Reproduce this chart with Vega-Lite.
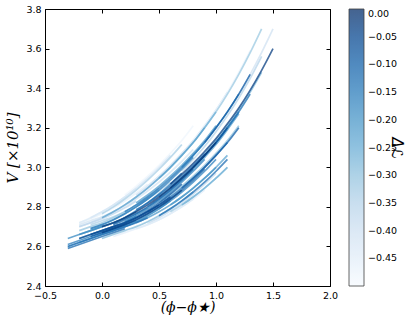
{
  "$schema": "https://vega.github.io/schema/vega-lite/v6.json",
  "width": 285,
  "height": 277,
  "autosize": {"type": "none"},
  "padding": {"left": 45, "top": 9, "right": 86, "bottom": 36},
  "background": "white",
  "config": {
    "view": {"stroke": "black", "strokeWidth": 1},
    "font": "DejaVu Sans",
    "axis": {"grid": false, "domain": false, "tickColor": "black", "labelColor": "black", "labelFontSize": 9.5, "labelFont": "DejaVu Sans"}
  },
  "data": {"values": [
    {"id":41,"phi":-0.2,"V":2.72,"dL":-0.46},{"id":41,"phi":-0.1,"V":2.74,"dL":-0.46},{"id":41,"phi":0.0,"V":2.765,"dL":-0.46},{"id":41,"phi":0.1,"V":2.795,"dL":-0.46},{"id":41,"phi":0.2,"V":2.83,"dL":-0.46},{"id":41,"phi":0.3,"V":2.87,"dL":-0.46},{"id":41,"phi":0.4,"V":2.915,"dL":-0.46},
    {"id":42,"phi":-0.2,"V":2.72,"dL":-0.43},{"id":42,"phi":-0.1,"V":2.745,"dL":-0.43},{"id":42,"phi":0.0,"V":2.775,"dL":-0.43},{"id":42,"phi":0.1,"V":2.81,"dL":-0.43},{"id":42,"phi":0.2,"V":2.85,"dL":-0.43},{"id":42,"phi":0.3,"V":2.895,"dL":-0.43},
    {"id":43,"phi":-0.2,"V":2.71,"dL":-0.41},{"id":43,"phi":-0.1,"V":2.73,"dL":-0.41},{"id":43,"phi":0.0,"V":2.75,"dL":-0.41},{"id":43,"phi":0.1,"V":2.775,"dL":-0.41},{"id":43,"phi":0.2,"V":2.805,"dL":-0.41},{"id":43,"phi":0.3,"V":2.84,"dL":-0.41},{"id":43,"phi":0.4,"V":2.88,"dL":-0.41},{"id":43,"phi":0.5,"V":2.925,"dL":-0.41},{"id":43,"phi":0.6,"V":2.975,"dL":-0.41},{"id":43,"phi":0.7,"V":3.03,"dL":-0.41},{"id":43,"phi":0.8,"V":3.09,"dL":-0.41},
    {"id":44,"phi":0.3,"V":2.86,"dL":-0.39},{"id":44,"phi":0.4,"V":2.905,"dL":-0.39},{"id":44,"phi":0.5,"V":2.955,"dL":-0.39},{"id":44,"phi":0.6,"V":3.01,"dL":-0.39},{"id":44,"phi":0.7,"V":3.07,"dL":-0.39},{"id":44,"phi":0.8,"V":3.135,"dL":-0.39},{"id":44,"phi":0.9,"V":3.21,"dL":-0.39},{"id":44,"phi":1.0,"V":3.29,"dL":-0.39},{"id":44,"phi":1.1,"V":3.38,"dL":-0.39},
    {"id":45,"phi":0.4,"V":2.715,"dL":-0.37},{"id":45,"phi":0.5,"V":2.745,"dL":-0.37},{"id":45,"phi":0.6,"V":2.78,"dL":-0.37},{"id":45,"phi":0.7,"V":2.82,"dL":-0.37},{"id":45,"phi":0.8,"V":2.865,"dL":-0.37},{"id":45,"phi":0.9,"V":2.915,"dL":-0.37},{"id":45,"phi":1.0,"V":2.97,"dL":-0.37},
    {"id":46,"phi":-0.1,"V":2.71,"dL":-0.34},{"id":46,"phi":0.0,"V":2.73,"dL":-0.34},{"id":46,"phi":0.1,"V":2.75,"dL":-0.34},{"id":46,"phi":0.2,"V":2.775,"dL":-0.34},{"id":46,"phi":0.3,"V":2.805,"dL":-0.34},{"id":46,"phi":0.4,"V":2.84,"dL":-0.34},{"id":46,"phi":0.5,"V":2.88,"dL":-0.34},{"id":46,"phi":0.6,"V":2.925,"dL":-0.34},
    {"id":36,"phi":0.2,"V":2.86,"dL":-0.48},{"id":36,"phi":0.3,"V":2.905,"dL":-0.48},{"id":36,"phi":0.4,"V":2.955,"dL":-0.48},{"id":36,"phi":0.5,"V":3.01,"dL":-0.48},{"id":36,"phi":0.6,"V":3.07,"dL":-0.48},{"id":36,"phi":0.7,"V":3.135,"dL":-0.48},{"id":36,"phi":0.8,"V":3.21,"dL":-0.48},
    {"id":24,"phi":0.8,"V":3.135,"dL":-0.47},{"id":24,"phi":0.9,"V":3.21,"dL":-0.47},{"id":24,"phi":1.0,"V":3.29,"dL":-0.47},{"id":24,"phi":1.1,"V":3.38,"dL":-0.47},{"id":24,"phi":1.2,"V":3.48,"dL":-0.47},{"id":24,"phi":1.3,"V":3.59,"dL":-0.47},
    {"id":15,"phi":0.1,"V":2.65,"dL":-0.45},{"id":15,"phi":0.2,"V":2.67,"dL":-0.45},{"id":15,"phi":0.3,"V":2.69,"dL":-0.45},{"id":15,"phi":0.4,"V":2.71,"dL":-0.45},{"id":15,"phi":0.5,"V":2.735,"dL":-0.45},{"id":15,"phi":0.6,"V":2.765,"dL":-0.45},{"id":15,"phi":0.7,"V":2.8,"dL":-0.45},{"id":15,"phi":0.8,"V":2.84,"dL":-0.45},{"id":15,"phi":0.9,"V":2.885,"dL":-0.45},
    {"id":28,"phi":0.3,"V":2.69,"dL":-0.44},{"id":28,"phi":0.4,"V":2.71,"dL":-0.44},{"id":28,"phi":0.5,"V":2.735,"dL":-0.44},{"id":28,"phi":0.6,"V":2.765,"dL":-0.44},{"id":28,"phi":0.7,"V":2.8,"dL":-0.44},{"id":28,"phi":0.8,"V":2.84,"dL":-0.44},
    {"id":9,"phi":-0.1,"V":2.745,"dL":-0.42},{"id":9,"phi":0.0,"V":2.775,"dL":-0.42},{"id":9,"phi":0.1,"V":2.81,"dL":-0.42},{"id":9,"phi":0.2,"V":2.85,"dL":-0.42},{"id":9,"phi":0.3,"V":2.895,"dL":-0.42},{"id":9,"phi":0.4,"V":2.945,"dL":-0.42},{"id":9,"phi":0.5,"V":3.0,"dL":-0.42},{"id":9,"phi":0.6,"V":3.06,"dL":-0.42},
    {"id":20,"phi":0.6,"V":2.945,"dL":-0.4},{"id":20,"phi":0.7,"V":3.0,"dL":-0.4},{"id":20,"phi":0.8,"V":3.06,"dL":-0.4},{"id":20,"phi":0.9,"V":3.125,"dL":-0.4},{"id":20,"phi":1.0,"V":3.2,"dL":-0.4},{"id":20,"phi":1.1,"V":3.28,"dL":-0.4},{"id":20,"phi":1.2,"V":3.37,"dL":-0.4},{"id":20,"phi":1.3,"V":3.47,"dL":-0.4},{"id":20,"phi":1.4,"V":3.58,"dL":-0.4},{"id":20,"phi":1.5,"V":3.7,"dL":-0.4},
    {"id":8,"phi":-0.2,"V":2.7,"dL":-0.38},{"id":8,"phi":-0.1,"V":2.72,"dL":-0.38},{"id":8,"phi":0.0,"V":2.745,"dL":-0.38},{"id":8,"phi":0.1,"V":2.775,"dL":-0.38},{"id":8,"phi":0.2,"V":2.81,"dL":-0.38},{"id":8,"phi":0.3,"V":2.85,"dL":-0.38},{"id":8,"phi":0.4,"V":2.895,"dL":-0.38},{"id":8,"phi":0.5,"V":2.945,"dL":-0.38},{"id":8,"phi":0.6,"V":3.0,"dL":-0.38},
    {"id":32,"phi":-0.2,"V":2.7,"dL":-0.36},{"id":32,"phi":-0.1,"V":2.72,"dL":-0.36},{"id":32,"phi":0.0,"V":2.74,"dL":-0.36},{"id":32,"phi":0.1,"V":2.765,"dL":-0.36},{"id":32,"phi":0.2,"V":2.795,"dL":-0.36},{"id":32,"phi":0.3,"V":2.83,"dL":-0.36},
    {"id":21,"phi":0.7,"V":2.98,"dL":-0.35},{"id":21,"phi":0.8,"V":3.04,"dL":-0.35},{"id":21,"phi":0.9,"V":3.105,"dL":-0.35},{"id":21,"phi":1.0,"V":3.18,"dL":-0.35},{"id":21,"phi":1.1,"V":3.26,"dL":-0.35},{"id":21,"phi":1.2,"V":3.35,"dL":-0.35},{"id":21,"phi":1.3,"V":3.45,"dL":-0.35},{"id":21,"phi":1.4,"V":3.56,"dL":-0.35},
    {"id":10,"phi":0.0,"V":2.765,"dL":-0.33},{"id":10,"phi":0.1,"V":2.8,"dL":-0.33},{"id":10,"phi":0.2,"V":2.84,"dL":-0.33},{"id":10,"phi":0.3,"V":2.885,"dL":-0.33},{"id":10,"phi":0.4,"V":2.935,"dL":-0.33},{"id":10,"phi":0.5,"V":2.99,"dL":-0.33},{"id":10,"phi":0.6,"V":3.05,"dL":-0.33},{"id":10,"phi":0.7,"V":3.115,"dL":-0.33},
    {"id":27,"phi":0.6,"V":2.775,"dL":-0.32},{"id":27,"phi":0.7,"V":2.81,"dL":-0.32},{"id":27,"phi":0.8,"V":2.85,"dL":-0.32},{"id":27,"phi":0.9,"V":2.895,"dL":-0.32},{"id":27,"phi":1.0,"V":2.945,"dL":-0.32},{"id":27,"phi":1.1,"V":3.0,"dL":-0.32},
    {"id":40,"phi":0.9,"V":3.2,"dL":-0.31},{"id":40,"phi":1.0,"V":3.28,"dL":-0.31},{"id":40,"phi":1.1,"V":3.37,"dL":-0.31},{"id":40,"phi":1.2,"V":3.47,"dL":-0.31},{"id":40,"phi":1.3,"V":3.58,"dL":-0.31},{"id":40,"phi":1.4,"V":3.7,"dL":-0.31},
    {"id":6,"phi":-0.2,"V":2.68,"dL":-0.3},{"id":6,"phi":-0.1,"V":2.7,"dL":-0.3},{"id":6,"phi":0.0,"V":2.72,"dL":-0.3},{"id":6,"phi":0.1,"V":2.745,"dL":-0.3},{"id":6,"phi":0.2,"V":2.775,"dL":-0.3},{"id":6,"phi":0.3,"V":2.81,"dL":-0.3},{"id":6,"phi":0.4,"V":2.85,"dL":-0.3},{"id":6,"phi":0.5,"V":2.895,"dL":-0.3},
    {"id":47,"phi":0.5,"V":2.82,"dL":-0.29},{"id":47,"phi":0.6,"V":2.86,"dL":-0.29},{"id":47,"phi":0.7,"V":2.905,"dL":-0.29},{"id":47,"phi":0.8,"V":2.955,"dL":-0.29},{"id":47,"phi":0.9,"V":3.01,"dL":-0.29},{"id":47,"phi":1.0,"V":3.07,"dL":-0.29},{"id":47,"phi":1.1,"V":3.135,"dL":-0.29},{"id":47,"phi":1.2,"V":3.21,"dL":-0.29},
    {"id":14,"phi":0.0,"V":2.64,"dL":-0.28},{"id":14,"phi":0.1,"V":2.66,"dL":-0.28},{"id":14,"phi":0.2,"V":2.68,"dL":-0.28},{"id":14,"phi":0.3,"V":2.7,"dL":-0.28},{"id":14,"phi":0.4,"V":2.725,"dL":-0.28},{"id":14,"phi":0.5,"V":2.755,"dL":-0.28},{"id":14,"phi":0.6,"V":2.79,"dL":-0.28},{"id":14,"phi":0.7,"V":2.83,"dL":-0.28},{"id":14,"phi":0.8,"V":2.875,"dL":-0.28},
    {"id":34,"phi":0.9,"V":3.07,"dL":-0.27},{"id":34,"phi":1.0,"V":3.135,"dL":-0.27},{"id":34,"phi":1.1,"V":3.21,"dL":-0.27},{"id":34,"phi":1.2,"V":3.29,"dL":-0.27},{"id":34,"phi":1.3,"V":3.38,"dL":-0.27},{"id":34,"phi":1.4,"V":3.48,"dL":-0.27},
    {"id":23,"phi":0.5,"V":2.945,"dL":-0.26},{"id":23,"phi":0.6,"V":3.0,"dL":-0.26},{"id":23,"phi":0.7,"V":3.06,"dL":-0.26},{"id":23,"phi":0.8,"V":3.125,"dL":-0.26},{"id":23,"phi":0.9,"V":3.2,"dL":-0.26},{"id":23,"phi":1.0,"V":3.28,"dL":-0.26},
    {"id":60,"phi":0.7,"V":2.81,"dL":-0.26},{"id":60,"phi":0.8,"V":2.85,"dL":-0.26},{"id":60,"phi":0.9,"V":2.895,"dL":-0.26},{"id":60,"phi":1.0,"V":2.945,"dL":-0.26},{"id":60,"phi":1.1,"V":3.0,"dL":-0.26},
    {"id":2,"phi":-0.3,"V":2.6,"dL":-0.25},{"id":2,"phi":-0.2,"V":2.62,"dL":-0.25},{"id":2,"phi":-0.1,"V":2.64,"dL":-0.25},{"id":2,"phi":0.0,"V":2.66,"dL":-0.25},{"id":2,"phi":0.1,"V":2.68,"dL":-0.25},{"id":2,"phi":0.2,"V":2.7,"dL":-0.25},{"id":2,"phi":0.3,"V":2.725,"dL":-0.25},{"id":2,"phi":0.4,"V":2.755,"dL":-0.25},{"id":2,"phi":0.5,"V":2.79,"dL":-0.25},
    {"id":48,"phi":-0.1,"V":2.69,"dL":-0.24},{"id":48,"phi":0.0,"V":2.71,"dL":-0.24},{"id":48,"phi":0.1,"V":2.735,"dL":-0.24},{"id":48,"phi":0.2,"V":2.765,"dL":-0.24},{"id":48,"phi":0.3,"V":2.8,"dL":-0.24},{"id":48,"phi":0.4,"V":2.84,"dL":-0.24},{"id":48,"phi":0.5,"V":2.885,"dL":-0.24},
    {"id":26,"phi":0.6,"V":2.81,"dL":-0.23},{"id":26,"phi":0.7,"V":2.85,"dL":-0.23},{"id":26,"phi":0.8,"V":2.895,"dL":-0.23},{"id":26,"phi":0.9,"V":2.945,"dL":-0.23},{"id":26,"phi":1.0,"V":3.0,"dL":-0.23},{"id":26,"phi":1.1,"V":3.06,"dL":-0.23},
    {"id":11,"phi":0.0,"V":2.745,"dL":-0.22},{"id":11,"phi":0.1,"V":2.775,"dL":-0.22},{"id":11,"phi":0.2,"V":2.81,"dL":-0.22},{"id":11,"phi":0.3,"V":2.85,"dL":-0.22},{"id":11,"phi":0.4,"V":2.895,"dL":-0.22},{"id":11,"phi":0.5,"V":2.945,"dL":-0.22},{"id":11,"phi":0.6,"V":3.0,"dL":-0.22},{"id":11,"phi":0.7,"V":3.06,"dL":-0.22},{"id":11,"phi":0.8,"V":3.125,"dL":-0.22},{"id":11,"phi":0.9,"V":3.2,"dL":-0.22},
    {"id":38,"phi":0.3,"V":2.82,"dL":-0.21},{"id":38,"phi":0.4,"V":2.86,"dL":-0.21},{"id":38,"phi":0.5,"V":2.905,"dL":-0.21},{"id":38,"phi":0.6,"V":2.955,"dL":-0.21},{"id":38,"phi":0.7,"V":3.01,"dL":-0.21},{"id":38,"phi":0.8,"V":3.07,"dL":-0.21},{"id":38,"phi":0.9,"V":3.135,"dL":-0.21},{"id":38,"phi":1.0,"V":3.21,"dL":-0.21},
    {"id":49,"phi":0.4,"V":2.8,"dL":-0.21},{"id":49,"phi":0.5,"V":2.84,"dL":-0.21},{"id":49,"phi":0.6,"V":2.885,"dL":-0.21},{"id":49,"phi":0.7,"V":2.935,"dL":-0.21},{"id":49,"phi":0.8,"V":2.99,"dL":-0.21},{"id":49,"phi":0.9,"V":3.05,"dL":-0.21},{"id":49,"phi":1.0,"V":3.115,"dL":-0.21},{"id":49,"phi":1.1,"V":3.19,"dL":-0.21},{"id":49,"phi":1.2,"V":3.27,"dL":-0.21},
    {"id":16,"phi":0.3,"V":2.72,"dL":-0.2},{"id":16,"phi":0.4,"V":2.745,"dL":-0.2},{"id":16,"phi":0.5,"V":2.775,"dL":-0.2},{"id":16,"phi":0.6,"V":2.81,"dL":-0.2},{"id":16,"phi":0.7,"V":2.85,"dL":-0.2},{"id":16,"phi":0.8,"V":2.895,"dL":-0.2},{"id":16,"phi":0.9,"V":2.945,"dL":-0.2},{"id":16,"phi":1.0,"V":3.0,"dL":-0.2},
    {"id":31,"phi":-0.2,"V":2.66,"dL":-0.19},{"id":31,"phi":-0.1,"V":2.68,"dL":-0.19},{"id":31,"phi":0.0,"V":2.7,"dL":-0.19},{"id":31,"phi":0.1,"V":2.72,"dL":-0.19},{"id":31,"phi":0.2,"V":2.74,"dL":-0.19},{"id":31,"phi":0.3,"V":2.765,"dL":-0.19},{"id":31,"phi":0.4,"V":2.795,"dL":-0.19},
    {"id":50,"phi":-0.2,"V":2.62,"dL":-0.19},{"id":50,"phi":-0.1,"V":2.64,"dL":-0.19},{"id":50,"phi":0.0,"V":2.66,"dL":-0.19},{"id":50,"phi":0.1,"V":2.68,"dL":-0.19},{"id":50,"phi":0.2,"V":2.7,"dL":-0.19},{"id":50,"phi":0.3,"V":2.725,"dL":-0.19},{"id":50,"phi":0.4,"V":2.755,"dL":-0.19},{"id":50,"phi":0.5,"V":2.79,"dL":-0.19},{"id":50,"phi":0.6,"V":2.83,"dL":-0.19},
    {"id":4,"phi":-0.2,"V":2.64,"dL":-0.18},{"id":4,"phi":-0.1,"V":2.66,"dL":-0.18},{"id":4,"phi":0.0,"V":2.68,"dL":-0.18},{"id":4,"phi":0.1,"V":2.7,"dL":-0.18},{"id":4,"phi":0.2,"V":2.725,"dL":-0.18},{"id":4,"phi":0.3,"V":2.755,"dL":-0.18},
    {"id":22,"phi":0.7,"V":3.0,"dL":-0.17},{"id":22,"phi":0.8,"V":3.06,"dL":-0.17},{"id":22,"phi":0.9,"V":3.125,"dL":-0.17},{"id":22,"phi":1.0,"V":3.2,"dL":-0.17},{"id":22,"phi":1.1,"V":3.28,"dL":-0.17},{"id":22,"phi":1.2,"V":3.37,"dL":-0.17},
    {"id":51,"phi":-0.3,"V":2.64,"dL":-0.17},{"id":51,"phi":-0.2,"V":2.66,"dL":-0.17},{"id":51,"phi":-0.1,"V":2.68,"dL":-0.17},{"id":51,"phi":0.0,"V":2.7,"dL":-0.17},{"id":51,"phi":0.1,"V":2.72,"dL":-0.17},{"id":51,"phi":0.2,"V":2.745,"dL":-0.17},{"id":51,"phi":0.3,"V":2.775,"dL":-0.17},
    {"id":37,"phi":0.5,"V":2.79,"dL":-0.16},{"id":37,"phi":0.6,"V":2.83,"dL":-0.16},{"id":37,"phi":0.7,"V":2.875,"dL":-0.16},{"id":37,"phi":0.8,"V":2.925,"dL":-0.16},{"id":37,"phi":0.9,"V":2.98,"dL":-0.16},{"id":37,"phi":1.0,"V":3.04,"dL":-0.16},
    {"id":30,"phi":0.2,"V":2.725,"dL":-0.16},{"id":30,"phi":0.3,"V":2.755,"dL":-0.16},{"id":30,"phi":0.4,"V":2.79,"dL":-0.16},{"id":30,"phi":0.5,"V":2.83,"dL":-0.16},{"id":30,"phi":0.6,"V":2.875,"dL":-0.16},{"id":30,"phi":0.7,"V":2.925,"dL":-0.16},{"id":30,"phi":0.8,"V":2.98,"dL":-0.16},{"id":30,"phi":0.9,"V":3.04,"dL":-0.16},
    {"id":7,"phi":-0.1,"V":2.69,"dL":-0.15},{"id":7,"phi":0.0,"V":2.71,"dL":-0.15},{"id":7,"phi":0.1,"V":2.735,"dL":-0.15},{"id":7,"phi":0.2,"V":2.765,"dL":-0.15},{"id":7,"phi":0.3,"V":2.8,"dL":-0.15},{"id":7,"phi":0.4,"V":2.84,"dL":-0.15},{"id":7,"phi":0.5,"V":2.885,"dL":-0.15},{"id":7,"phi":0.6,"V":2.935,"dL":-0.15},{"id":7,"phi":0.7,"V":2.99,"dL":-0.15},{"id":7,"phi":0.8,"V":3.05,"dL":-0.15},
    {"id":59,"phi":-0.3,"V":2.61,"dL":-0.15},{"id":59,"phi":-0.2,"V":2.63,"dL":-0.15},{"id":59,"phi":-0.1,"V":2.65,"dL":-0.15},{"id":59,"phi":0.0,"V":2.67,"dL":-0.15},{"id":59,"phi":0.1,"V":2.69,"dL":-0.15},{"id":59,"phi":0.2,"V":2.71,"dL":-0.15},{"id":59,"phi":0.3,"V":2.73,"dL":-0.15},
    {"id":29,"phi":0.8,"V":3.0,"dL":-0.14},{"id":29,"phi":0.9,"V":3.06,"dL":-0.14},{"id":29,"phi":1.0,"V":3.125,"dL":-0.14},{"id":29,"phi":1.1,"V":3.2,"dL":-0.14},{"id":29,"phi":1.2,"V":3.28,"dL":-0.14},
    {"id":52,"phi":0.2,"V":2.775,"dL":-0.14},{"id":52,"phi":0.3,"V":2.81,"dL":-0.14},{"id":52,"phi":0.4,"V":2.85,"dL":-0.14},{"id":52,"phi":0.5,"V":2.895,"dL":-0.14},{"id":52,"phi":0.6,"V":2.945,"dL":-0.14},{"id":52,"phi":0.7,"V":3.0,"dL":-0.14},{"id":52,"phi":0.8,"V":3.06,"dL":-0.14},{"id":52,"phi":0.9,"V":3.125,"dL":-0.14},
    {"id":33,"phi":0.1,"V":2.715,"dL":-0.13},{"id":33,"phi":0.2,"V":2.745,"dL":-0.13},{"id":33,"phi":0.3,"V":2.78,"dL":-0.13},{"id":33,"phi":0.4,"V":2.82,"dL":-0.13},{"id":33,"phi":0.5,"V":2.865,"dL":-0.13},{"id":33,"phi":0.6,"V":2.915,"dL":-0.13},{"id":33,"phi":0.7,"V":2.97,"dL":-0.13},
    {"id":18,"phi":0.5,"V":2.85,"dL":-0.13},{"id":18,"phi":0.6,"V":2.895,"dL":-0.13},{"id":18,"phi":0.7,"V":2.945,"dL":-0.13},{"id":18,"phi":0.8,"V":3.0,"dL":-0.13},{"id":18,"phi":0.9,"V":3.06,"dL":-0.13},{"id":18,"phi":1.0,"V":3.125,"dL":-0.13},{"id":18,"phi":1.1,"V":3.2,"dL":-0.13},{"id":18,"phi":1.2,"V":3.28,"dL":-0.13},{"id":18,"phi":1.3,"V":3.37,"dL":-0.13},
    {"id":1,"phi":-0.3,"V":2.6,"dL":-0.12},{"id":1,"phi":-0.2,"V":2.62,"dL":-0.12},{"id":1,"phi":-0.1,"V":2.64,"dL":-0.12},{"id":1,"phi":0.0,"V":2.66,"dL":-0.12},{"id":1,"phi":0.1,"V":2.68,"dL":-0.12},{"id":1,"phi":0.2,"V":2.7,"dL":-0.12},{"id":1,"phi":0.3,"V":2.72,"dL":-0.12},{"id":1,"phi":0.4,"V":2.745,"dL":-0.12},
    {"id":17,"phi":0.4,"V":2.775,"dL":-0.12},{"id":17,"phi":0.5,"V":2.81,"dL":-0.12},{"id":17,"phi":0.6,"V":2.85,"dL":-0.12},{"id":17,"phi":0.7,"V":2.895,"dL":-0.12},{"id":17,"phi":0.8,"V":2.945,"dL":-0.12},{"id":17,"phi":0.9,"V":3.0,"dL":-0.12},{"id":17,"phi":1.0,"V":3.06,"dL":-0.12},{"id":17,"phi":1.1,"V":3.125,"dL":-0.12},
    {"id":53,"phi":0.5,"V":2.755,"dL":-0.12},{"id":53,"phi":0.6,"V":2.79,"dL":-0.12},{"id":53,"phi":0.7,"V":2.83,"dL":-0.12},{"id":53,"phi":0.8,"V":2.875,"dL":-0.12},{"id":53,"phi":0.9,"V":2.925,"dL":-0.12},{"id":53,"phi":1.0,"V":2.98,"dL":-0.12},{"id":53,"phi":1.1,"V":3.04,"dL":-0.12},
    {"id":35,"phi":-0.3,"V":2.59,"dL":-0.11},{"id":35,"phi":-0.2,"V":2.61,"dL":-0.11},{"id":35,"phi":-0.1,"V":2.63,"dL":-0.11},{"id":35,"phi":0.0,"V":2.65,"dL":-0.11},{"id":35,"phi":0.1,"V":2.67,"dL":-0.11},{"id":35,"phi":0.2,"V":2.69,"dL":-0.11},
    {"id":39,"phi":0.3,"V":2.785,"dL":-0.11},{"id":39,"phi":0.4,"V":2.82,"dL":-0.11},{"id":39,"phi":0.5,"V":2.86,"dL":-0.11},{"id":39,"phi":0.6,"V":2.905,"dL":-0.11},{"id":39,"phi":0.7,"V":2.955,"dL":-0.11},{"id":39,"phi":0.8,"V":3.01,"dL":-0.11},{"id":39,"phi":0.9,"V":3.07,"dL":-0.11},
    {"id":13,"phi":0.0,"V":2.67,"dL":-0.1},{"id":13,"phi":0.1,"V":2.69,"dL":-0.1},{"id":13,"phi":0.2,"V":2.71,"dL":-0.1},{"id":13,"phi":0.3,"V":2.735,"dL":-0.1},{"id":13,"phi":0.4,"V":2.765,"dL":-0.1},{"id":13,"phi":0.5,"V":2.8,"dL":-0.1},{"id":13,"phi":0.6,"V":2.84,"dL":-0.1},{"id":13,"phi":0.7,"V":2.885,"dL":-0.1},{"id":13,"phi":0.8,"V":2.935,"dL":-0.1},{"id":13,"phi":0.9,"V":2.99,"dL":-0.1},
    {"id":54,"phi":0.1,"V":2.71,"dL":-0.1},{"id":54,"phi":0.2,"V":2.735,"dL":-0.1},{"id":54,"phi":0.3,"V":2.765,"dL":-0.1},{"id":54,"phi":0.4,"V":2.8,"dL":-0.1},{"id":54,"phi":0.5,"V":2.84,"dL":-0.1},{"id":54,"phi":0.6,"V":2.885,"dL":-0.1},{"id":54,"phi":0.7,"V":2.935,"dL":-0.1},{"id":54,"phi":0.8,"V":2.99,"dL":-0.1},
    {"id":25,"phi":0.7,"V":2.895,"dL":-0.09},{"id":25,"phi":0.8,"V":2.945,"dL":-0.09},{"id":25,"phi":0.9,"V":3.0,"dL":-0.09},{"id":25,"phi":1.0,"V":3.06,"dL":-0.09},{"id":25,"phi":1.1,"V":3.125,"dL":-0.09},{"id":25,"phi":1.2,"V":3.2,"dL":-0.09},
    {"id":55,"phi":0.9,"V":3.125,"dL":-0.08},{"id":55,"phi":1.0,"V":3.2,"dL":-0.08},{"id":55,"phi":1.1,"V":3.28,"dL":-0.08},{"id":55,"phi":1.2,"V":3.37,"dL":-0.08},{"id":55,"phi":1.3,"V":3.47,"dL":-0.08},
    {"id":5,"phi":-0.1,"V":2.65,"dL":-0.08},{"id":5,"phi":0.0,"V":2.67,"dL":-0.08},{"id":5,"phi":0.1,"V":2.69,"dL":-0.08},{"id":5,"phi":0.2,"V":2.715,"dL":-0.08},{"id":5,"phi":0.3,"V":2.745,"dL":-0.08},{"id":5,"phi":0.4,"V":2.78,"dL":-0.08},{"id":5,"phi":0.5,"V":2.82,"dL":-0.08},{"id":5,"phi":0.6,"V":2.865,"dL":-0.08},{"id":5,"phi":0.7,"V":2.915,"dL":-0.08},
    {"id":56,"phi":-0.1,"V":2.66,"dL":-0.07},{"id":56,"phi":0.0,"V":2.68,"dL":-0.07},{"id":56,"phi":0.1,"V":2.7,"dL":-0.07},{"id":56,"phi":0.2,"V":2.72,"dL":-0.07},{"id":56,"phi":0.3,"V":2.745,"dL":-0.07},{"id":56,"phi":0.4,"V":2.775,"dL":-0.07},{"id":56,"phi":0.5,"V":2.81,"dL":-0.07},
    {"id":57,"phi":0.6,"V":2.895,"dL":-0.06},{"id":57,"phi":0.7,"V":2.945,"dL":-0.06},{"id":57,"phi":0.8,"V":3.0,"dL":-0.06},{"id":57,"phi":0.9,"V":3.06,"dL":-0.06},{"id":57,"phi":1.0,"V":3.125,"dL":-0.06},{"id":57,"phi":1.1,"V":3.2,"dL":-0.06},
    {"id":3,"phi":-0.2,"V":2.64,"dL":-0.05},{"id":3,"phi":-0.1,"V":2.66,"dL":-0.05},{"id":3,"phi":0.0,"V":2.68,"dL":-0.05},{"id":3,"phi":0.1,"V":2.7,"dL":-0.05},{"id":3,"phi":0.2,"V":2.72,"dL":-0.05},{"id":3,"phi":0.3,"V":2.745,"dL":-0.05},{"id":3,"phi":0.4,"V":2.775,"dL":-0.05},{"id":3,"phi":0.5,"V":2.81,"dL":-0.05},{"id":3,"phi":0.6,"V":2.85,"dL":-0.05},
    {"id":58,"phi":0.0,"V":2.67,"dL":-0.04},{"id":58,"phi":0.1,"V":2.69,"dL":-0.04},{"id":58,"phi":0.2,"V":2.71,"dL":-0.04},{"id":58,"phi":0.3,"V":2.735,"dL":-0.04},{"id":58,"phi":0.4,"V":2.765,"dL":-0.04},{"id":58,"phi":0.5,"V":2.8,"dL":-0.04},{"id":58,"phi":0.6,"V":2.84,"dL":-0.04},{"id":58,"phi":0.7,"V":2.885,"dL":-0.04},
    {"id":19,"phi":0.6,"V":2.915,"dL":-0.03},{"id":19,"phi":0.7,"V":2.965,"dL":-0.03},{"id":19,"phi":0.8,"V":3.02,"dL":-0.03},{"id":19,"phi":0.9,"V":3.08,"dL":-0.03},{"id":19,"phi":1.0,"V":3.145,"dL":-0.03},{"id":19,"phi":1.1,"V":3.22,"dL":-0.03},{"id":19,"phi":1.2,"V":3.3,"dL":-0.03},{"id":19,"phi":1.3,"V":3.39,"dL":-0.03},{"id":19,"phi":1.4,"V":3.49,"dL":-0.03},{"id":19,"phi":1.5,"V":3.6,"dL":-0.03},
    {"id":12,"phi":0.0,"V":2.7,"dL":-0.02},{"id":12,"phi":0.1,"V":2.72,"dL":-0.02},{"id":12,"phi":0.2,"V":2.745,"dL":-0.02},{"id":12,"phi":0.3,"V":2.775,"dL":-0.02},{"id":12,"phi":0.4,"V":2.81,"dL":-0.02},{"id":12,"phi":0.5,"V":2.85,"dL":-0.02},{"id":12,"phi":0.6,"V":2.895,"dL":-0.02},{"id":12,"phi":0.7,"V":2.945,"dL":-0.02},{"id":12,"phi":0.8,"V":3.0,"dL":-0.02},{"id":12,"phi":0.9,"V":3.06,"dL":-0.02},{"id":12,"phi":1.0,"V":3.125,"dL":-0.02}
  ]},
  "layer": [
    {
      "mark": {"type": "line", "interpolate": "monotone", "strokeWidth": 1.7, "opacity": 0.75, "clip": true},
      "encoding": {
        "x": {"field": "phi", "type": "quantitative", "scale": {"domain": [-0.5, 2.0], "nice": false, "zero": false},
          "axis": {"orient": "bottom", "values": [-0.5, 0, 0.5, 1.0, 1.5, 2.0], "format": ".1f", "labelExpr": "replace(datum.label, '-', '\u2212')", "tickSize": -4, "labelPadding": 8, "labelFlush": false,
            "title": "(\u03d5\u2212\u03d5\u2605)", "titleFont": "DejaVu Serif", "titleFontStyle": "italic", "titleFontWeight": "normal", "titleFontSize": 14, "titlePadding": 1}},
        "y": {"field": "V", "type": "quantitative", "scale": {"domain": [2.4, 3.8], "nice": false, "zero": false},
          "axis": {"orient": "left", "values": [2.4, 2.6, 2.8, 3.0, 3.2, 3.4, 3.6, 3.8], "format": ".1f", "tickSize": -4, "labelPadding": 8, "labelFlush": false,
            "title": "V [\u00d710\u00b9\u2070]", "titleFont": "DejaVu Serif", "titleFontWeight": "normal", "titleFontStyle": "italic", "titleFontSize": 15, "titlePadding": 5}},
        "detail": {"field": "id", "type": "nominal"},
        "color": {"field": "dL", "type": "quantitative",
          "scale": {"domain": [-0.5, -0.4375, -0.375, -0.3125, -0.25, -0.1875, -0.125, -0.0625, 0],
                    "range": ["#f7fbff", "#deebf7", "#c6dbef", "#9ecae1", "#6baed6", "#4292c6", "#2171b5", "#08519c", "#08306b"]},
          "legend": {"orient": "right", "offset": 18, "direction": "vertical", "gradientLength": 277, "gradientThickness": 15,
            "gradientStrokeColor": "black", "gradientStrokeWidth": 0.8,
            "values": [0, -0.05, -0.1, -0.15, -0.2, -0.25, -0.3, -0.35, -0.4, -0.45], "format": ".2f",
            "labelExpr": "replace(datum.label, '-', '\u2212')", "labelFontSize": 9.5, "labelColor": "black", "labelOffset": 4,
            "title": "\u0394\u2112", "titleOrient": "right", "titleAngle": 270, "titleAnchor": "middle", "titleBaseline": "top",
            "titleFont": "DejaVu Sans", "titleFontStyle": "italic", "titleFontSize": 15, "titleFontWeight": "normal", "titleColor": "black", "titlePadding": 7}}
      }
    },
    {
      "mark": {"type": "line", "opacity": 0},
      "encoding": {
        "x": {"field": "phi", "type": "quantitative", "axis": {"orient": "top", "values": [-0.5, 0, 0.5, 1.0, 1.5, 2.0], "labels": false, "tickSize": -4, "title": null}},
        "y": {"field": "V", "type": "quantitative", "axis": {"orient": "right", "values": [2.4, 2.6, 2.8, 3.0, 3.2, 3.4, 3.6, 3.8], "labels": false, "tickSize": -4, "title": null}},
        "detail": {"field": "id", "type": "nominal"}
      }
    }
  ],
  "resolve": {"axis": {"x": "independent", "y": "independent"}}
}
